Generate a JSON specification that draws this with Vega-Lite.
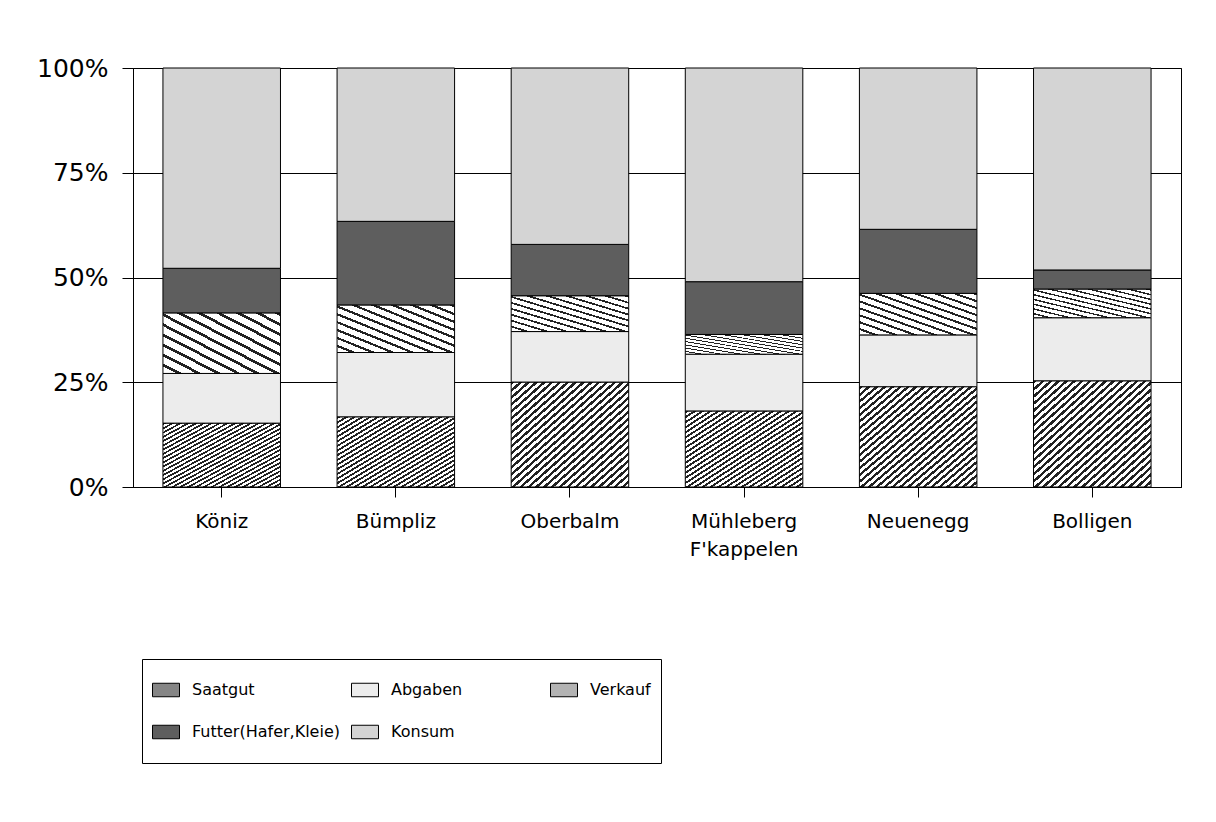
{
  "$schema": "https://vega.github.io/schema/vega-lite/v6.json",
  "width": 1048,
  "height": 419,
  "autosize": {"type": "none"},
  "padding": {"left": 133, "top": 68, "right": 35, "bottom": 335},
  "background": "white",
  "config": {"view": {"stroke": "black", "strokeWidth": 1}, "font": "DejaVu Sans"},
  "data": {
    "values": [
      {"Gemeinde": "Köniz", "Verwendung": "Saatgut", "Anteil": 15.2},
      {"Gemeinde": "Köniz", "Verwendung": "Abgaben", "Anteil": 11.9},
      {"Gemeinde": "Köniz", "Verwendung": "Verkauf", "Anteil": 14.4},
      {"Gemeinde": "Köniz", "Verwendung": "Futter(Hafer,Kleie)", "Anteil": 10.7},
      {"Gemeinde": "Köniz", "Verwendung": "Konsum", "Anteil": 47.8},
      {"Gemeinde": "Bümpliz", "Verwendung": "Saatgut", "Anteil": 16.7},
      {"Gemeinde": "Bümpliz", "Verwendung": "Abgaben", "Anteil": 15.4},
      {"Gemeinde": "Bümpliz", "Verwendung": "Verkauf", "Anteil": 11.3},
      {"Gemeinde": "Bümpliz", "Verwendung": "Futter(Hafer,Kleie)", "Anteil": 20.0},
      {"Gemeinde": "Bümpliz", "Verwendung": "Konsum", "Anteil": 36.6},
      {"Gemeinde": "Oberbalm", "Verwendung": "Saatgut", "Anteil": 25.0},
      {"Gemeinde": "Oberbalm", "Verwendung": "Abgaben", "Anteil": 12.1},
      {"Gemeinde": "Oberbalm", "Verwendung": "Verkauf", "Anteil": 8.5},
      {"Gemeinde": "Oberbalm", "Verwendung": "Futter(Hafer,Kleie)", "Anteil": 12.3},
      {"Gemeinde": "Oberbalm", "Verwendung": "Konsum", "Anteil": 42.1},
      {"Gemeinde": "Mühleberg F'kappelen", "Verwendung": "Saatgut", "Anteil": 18.1},
      {"Gemeinde": "Mühleberg F'kappelen", "Verwendung": "Abgaben", "Anteil": 13.6},
      {"Gemeinde": "Mühleberg F'kappelen", "Verwendung": "Verkauf", "Anteil": 4.7},
      {"Gemeinde": "Mühleberg F'kappelen", "Verwendung": "Futter(Hafer,Kleie)", "Anteil": 12.6},
      {"Gemeinde": "Mühleberg F'kappelen", "Verwendung": "Konsum", "Anteil": 51.0},
      {"Gemeinde": "Neuenegg", "Verwendung": "Saatgut", "Anteil": 23.9},
      {"Gemeinde": "Neuenegg", "Verwendung": "Abgaben", "Anteil": 12.4},
      {"Gemeinde": "Neuenegg", "Verwendung": "Verkauf", "Anteil": 9.9},
      {"Gemeinde": "Neuenegg", "Verwendung": "Futter(Hafer,Kleie)", "Anteil": 15.3},
      {"Gemeinde": "Neuenegg", "Verwendung": "Konsum", "Anteil": 38.5},
      {"Gemeinde": "Bolligen", "Verwendung": "Saatgut", "Anteil": 25.3},
      {"Gemeinde": "Bolligen", "Verwendung": "Abgaben", "Anteil": 15.1},
      {"Gemeinde": "Bolligen", "Verwendung": "Verkauf", "Anteil": 6.8},
      {"Gemeinde": "Bolligen", "Verwendung": "Futter(Hafer,Kleie)", "Anteil": 4.6},
      {"Gemeinde": "Bolligen", "Verwendung": "Konsum", "Anteil": 48.2}
    ]
  },
  "transform": [
    {"calculate": "indexof(['Saatgut', 'Abgaben', 'Verkauf', 'Futter(Hafer,Kleie)', 'Konsum'], datum.Verwendung)", "as": "Stapel"},
    {"stack": "Anteil", "groupby": ["Gemeinde"], "sort": [{"field": "Stapel", "order": "ascending"}], "offset": "normalize", "as": ["Anteil_unten", "Anteil_oben"]}
  ],
  "encoding": {
    "x": {
      "field": "Gemeinde",
      "type": "nominal",
      "sort": ["Köniz", "Bümpliz", "Oberbalm", "Mühleberg F'kappelen", "Neuenegg", "Bolligen"],
      "scale": {"paddingInner": 0.325, "paddingOuter": 0.172},
      "axis": {
        "title": null,
        "labelAngle": 0,
        "labelExpr": "split(datum.label, ' ')",
        "labelFont": "DejaVu Sans",
        "labelFontSize": 20,
        "labelColor": "black",
        "labelPadding": 14,
        "labelLineHeight": 28,
        "tickSize": 10,
        "tickColor": "black",
        "domainColor": "black"
      }
    },
    "y": {
      "field": "Anteil_unten",
      "type": "quantitative",
      "scale": {"domain": [0, 1]},
      "axis": {
        "title": null,
        "values": [0, 0.25, 0.5, 0.75, 1],
        "format": ".0%",
        "labelFont": "DejaVu Sans",
        "labelFontSize": 25,
        "labelColor": "black",
        "labelPadding": 14,
        "tickSize": 11,
        "tickColor": "black",
        "domainColor": "black",
        "grid": true,
        "gridColor": "black",
        "gridOpacity": 1,
        "gridWidth": 1
      }
    },
    "y2": {"field": "Anteil_oben"}
  },
  "layer": [
    {
      "transform": [{"filter": "datum.Verwendung != 'Saatgut' && datum.Verwendung != 'Verkauf'"}],
      "mark": {"type": "bar", "stroke": "black", "strokeWidth": 1},
      "encoding": {
        "color": {
          "field": "Verwendung",
          "type": "nominal",
          "sort": ["Saatgut", "Abgaben", "Verkauf", "Futter(Hafer,Kleie)", "Konsum"],
          "scale": {
            "domain": ["Saatgut", "Abgaben", "Verkauf", "Futter(Hafer,Kleie)", "Konsum"],
            "range": ["#858585", "#ececec", "#b3b3b3", "#5e5e5e", "#d4d4d4"]
          },
          "legend": {
            "orient": "none",
            "legendX": 9,
            "legendY": 591,
            "direction": "horizontal",
            "columns": 3,
            "gridAlign": "all",
            "columnPadding": 11,
            "rowPadding": 0,
            "clipHeight": 42,
            "padding": 10,
            "strokeColor": "black",
            "fillColor": "white",
            "symbolType": "M-1,-0.5H1V0.5H-1Z",
            "symbolSize": 729,
            "symbolStrokeColor": "black",
            "symbolStrokeWidth": 1,
            "symbolOpacity": 1,
            "labelFont": "DejaVu Sans",
            "labelFontSize": 16,
            "labelColor": "black",
            "labelOffset": 12,
            "labelLimit": 400,
            "title": null
          }
        }
      }
    },
    {
      "transform": [{"filter": "datum.Verwendung == 'Saatgut'"}],
      "mark": {"type": "bar", "stroke": "black", "strokeWidth": 1, "fill": {"gradient": "linear", "x1": 0, "y1": 0, "x2": 1, "y2": 1, "stops": [
            {"offset": 0, "color": "#222"}, {"offset": 0.015, "color": "#222"}, {"offset": 0.015, "color": "#fff"}, {"offset": 0.0333, "color": "#fff"},
            {"offset": 0.0333, "color": "#222"}, {"offset": 0.0483, "color": "#222"}, {"offset": 0.0483, "color": "#fff"}, {"offset": 0.0667, "color": "#fff"},
            {"offset": 0.0667, "color": "#222"}, {"offset": 0.0817, "color": "#222"}, {"offset": 0.0817, "color": "#fff"}, {"offset": 0.1, "color": "#fff"},
            {"offset": 0.1, "color": "#222"}, {"offset": 0.115, "color": "#222"}, {"offset": 0.115, "color": "#fff"}, {"offset": 0.1333, "color": "#fff"},
            {"offset": 0.1333, "color": "#222"}, {"offset": 0.1483, "color": "#222"}, {"offset": 0.1483, "color": "#fff"}, {"offset": 0.1667, "color": "#fff"},
            {"offset": 0.1667, "color": "#222"}, {"offset": 0.1817, "color": "#222"}, {"offset": 0.1817, "color": "#fff"}, {"offset": 0.2, "color": "#fff"},
            {"offset": 0.2, "color": "#222"}, {"offset": 0.215, "color": "#222"}, {"offset": 0.215, "color": "#fff"}, {"offset": 0.2333, "color": "#fff"},
            {"offset": 0.2333, "color": "#222"}, {"offset": 0.2483, "color": "#222"}, {"offset": 0.2483, "color": "#fff"}, {"offset": 0.2667, "color": "#fff"},
            {"offset": 0.2667, "color": "#222"}, {"offset": 0.2817, "color": "#222"}, {"offset": 0.2817, "color": "#fff"}, {"offset": 0.3, "color": "#fff"},
            {"offset": 0.3, "color": "#222"}, {"offset": 0.315, "color": "#222"}, {"offset": 0.315, "color": "#fff"}, {"offset": 0.3333, "color": "#fff"},
            {"offset": 0.3333, "color": "#222"}, {"offset": 0.3483, "color": "#222"}, {"offset": 0.3483, "color": "#fff"}, {"offset": 0.3667, "color": "#fff"},
            {"offset": 0.3667, "color": "#222"}, {"offset": 0.3817, "color": "#222"}, {"offset": 0.3817, "color": "#fff"}, {"offset": 0.4, "color": "#fff"},
            {"offset": 0.4, "color": "#222"}, {"offset": 0.415, "color": "#222"}, {"offset": 0.415, "color": "#fff"}, {"offset": 0.4333, "color": "#fff"},
            {"offset": 0.4333, "color": "#222"}, {"offset": 0.4483, "color": "#222"}, {"offset": 0.4483, "color": "#fff"}, {"offset": 0.4667, "color": "#fff"},
            {"offset": 0.4667, "color": "#222"}, {"offset": 0.4817, "color": "#222"}, {"offset": 0.4817, "color": "#fff"}, {"offset": 0.5, "color": "#fff"},
            {"offset": 0.5, "color": "#222"}, {"offset": 0.515, "color": "#222"}, {"offset": 0.515, "color": "#fff"}, {"offset": 0.5333, "color": "#fff"},
            {"offset": 0.5333, "color": "#222"}, {"offset": 0.5483, "color": "#222"}, {"offset": 0.5483, "color": "#fff"}, {"offset": 0.5667, "color": "#fff"},
            {"offset": 0.5667, "color": "#222"}, {"offset": 0.5817, "color": "#222"}, {"offset": 0.5817, "color": "#fff"}, {"offset": 0.6, "color": "#fff"},
            {"offset": 0.6, "color": "#222"}, {"offset": 0.615, "color": "#222"}, {"offset": 0.615, "color": "#fff"}, {"offset": 0.6333, "color": "#fff"},
            {"offset": 0.6333, "color": "#222"}, {"offset": 0.6483, "color": "#222"}, {"offset": 0.6483, "color": "#fff"}, {"offset": 0.6667, "color": "#fff"},
            {"offset": 0.6667, "color": "#222"}, {"offset": 0.6817, "color": "#222"}, {"offset": 0.6817, "color": "#fff"}, {"offset": 0.7, "color": "#fff"},
            {"offset": 0.7, "color": "#222"}, {"offset": 0.715, "color": "#222"}, {"offset": 0.715, "color": "#fff"}, {"offset": 0.7333, "color": "#fff"},
            {"offset": 0.7333, "color": "#222"}, {"offset": 0.7483, "color": "#222"}, {"offset": 0.7483, "color": "#fff"}, {"offset": 0.7667, "color": "#fff"},
            {"offset": 0.7667, "color": "#222"}, {"offset": 0.7817, "color": "#222"}, {"offset": 0.7817, "color": "#fff"}, {"offset": 0.8, "color": "#fff"},
            {"offset": 0.8, "color": "#222"}, {"offset": 0.815, "color": "#222"}, {"offset": 0.815, "color": "#fff"}, {"offset": 0.8333, "color": "#fff"},
            {"offset": 0.8333, "color": "#222"}, {"offset": 0.8483, "color": "#222"}, {"offset": 0.8483, "color": "#fff"}, {"offset": 0.8667, "color": "#fff"},
            {"offset": 0.8667, "color": "#222"}, {"offset": 0.8817, "color": "#222"}, {"offset": 0.8817, "color": "#fff"}, {"offset": 0.9, "color": "#fff"},
            {"offset": 0.9, "color": "#222"}, {"offset": 0.915, "color": "#222"}, {"offset": 0.915, "color": "#fff"}, {"offset": 0.9333, "color": "#fff"},
            {"offset": 0.9333, "color": "#222"}, {"offset": 0.9483, "color": "#222"}, {"offset": 0.9483, "color": "#fff"}, {"offset": 0.9667, "color": "#fff"},
            {"offset": 0.9667, "color": "#222"}, {"offset": 0.9817, "color": "#222"}, {"offset": 0.9817, "color": "#fff"}, {"offset": 1, "color": "#fff"}
          ]}}
    },
    {
      "transform": [{"filter": "datum.Verwendung == 'Verkauf'"}],
      "mark": {"type": "bar", "stroke": "black", "strokeWidth": 1, "fill": {"gradient": "linear", "x1": 1, "y1": 0, "x2": 0, "y2": 1, "stops": [
            {"offset": 0, "color": "#222"}, {"offset": 0.025, "color": "#222"}, {"offset": 0.025, "color": "#fff"}, {"offset": 0.0833, "color": "#fff"},
            {"offset": 0.0833, "color": "#222"}, {"offset": 0.1083, "color": "#222"}, {"offset": 0.1083, "color": "#fff"}, {"offset": 0.1667, "color": "#fff"},
            {"offset": 0.1667, "color": "#222"}, {"offset": 0.1917, "color": "#222"}, {"offset": 0.1917, "color": "#fff"}, {"offset": 0.25, "color": "#fff"},
            {"offset": 0.25, "color": "#222"}, {"offset": 0.275, "color": "#222"}, {"offset": 0.275, "color": "#fff"}, {"offset": 0.3333, "color": "#fff"},
            {"offset": 0.3333, "color": "#222"}, {"offset": 0.3583, "color": "#222"}, {"offset": 0.3583, "color": "#fff"}, {"offset": 0.4167, "color": "#fff"},
            {"offset": 0.4167, "color": "#222"}, {"offset": 0.4417, "color": "#222"}, {"offset": 0.4417, "color": "#fff"}, {"offset": 0.5, "color": "#fff"},
            {"offset": 0.5, "color": "#222"}, {"offset": 0.525, "color": "#222"}, {"offset": 0.525, "color": "#fff"}, {"offset": 0.5833, "color": "#fff"},
            {"offset": 0.5833, "color": "#222"}, {"offset": 0.6083, "color": "#222"}, {"offset": 0.6083, "color": "#fff"}, {"offset": 0.6667, "color": "#fff"},
            {"offset": 0.6667, "color": "#222"}, {"offset": 0.6917, "color": "#222"}, {"offset": 0.6917, "color": "#fff"}, {"offset": 0.75, "color": "#fff"},
            {"offset": 0.75, "color": "#222"}, {"offset": 0.775, "color": "#222"}, {"offset": 0.775, "color": "#fff"}, {"offset": 0.8333, "color": "#fff"},
            {"offset": 0.8333, "color": "#222"}, {"offset": 0.8583, "color": "#222"}, {"offset": 0.8583, "color": "#fff"}, {"offset": 0.9167, "color": "#fff"},
            {"offset": 0.9167, "color": "#222"}, {"offset": 0.9417, "color": "#222"}, {"offset": 0.9417, "color": "#fff"}, {"offset": 1, "color": "#fff"}
          ]}}
    }
  ]
}
